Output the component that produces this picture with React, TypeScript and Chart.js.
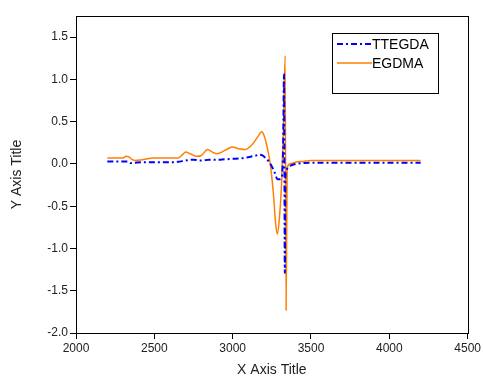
import React, { useEffect, useRef } from 'react';
import { Chart, registerables } from 'chart.js';

Chart.register(...registerables);

const seriesNames = ['TTEGDA', 'EGDMA'];

const ttegdaX = [2200, 2250, 2300, 2330, 2350, 2380, 2420, 2500, 2600, 2650, 2700, 2750, 2800, 2850, 2900, 2950, 3000, 3050, 3100, 3150, 3170, 3190, 3210, 3230, 3250, 3270, 3285, 3300, 3314, 3322, 3328, 3333, 3337, 3342, 3350, 3370, 3400, 3450, 3500, 3600, 3800, 4000, 4200];
const ttegdaY = [0.03, 0.03, 0.03, 0.03, 0.01, 0.015, 0.02, 0.02, 0.02, 0.025, 0.04, 0.05, 0.04, 0.05, 0.05, 0.055, 0.06, 0.065, 0.08, 0.1, 0.11, 0.1, 0.07, 0.03, -0.03, -0.11, -0.18, -0.18, -0.15, 0.2, 1.07, -1.29, -0.15, -0.08, -0.05, -0.02, 0.0, 0.01, 0.015, 0.015, 0.015, 0.015, 0.015];

const egdmaX = [2200, 2250, 2300, 2320, 2340, 2360, 2380, 2420, 2500, 2600, 2650, 2680, 2700, 2730, 2770, 2800, 2840, 2870, 2900, 2930, 2970, 3000, 3040, 3080, 3120, 3160, 3185, 3200, 3220, 3240, 3260, 3275, 3285, 3298, 3312, 3324, 3335, 3341, 3348, 3365, 3400, 3450, 3500, 3600, 3800, 4000, 4200];
const egdmaY = [0.07, 0.07, 0.07, 0.09, 0.08, 0.05, 0.04, 0.05, 0.07, 0.07, 0.07, 0.11, 0.14, 0.12, 0.09, 0.1, 0.17, 0.14, 0.12, 0.14, 0.18, 0.2, 0.18, 0.17, 0.22, 0.32, 0.38, 0.34, 0.2, 0.0, -0.35, -0.72, -0.83, -0.65, -0.25, 0.4, 1.28, -1.73, -0.05, 0.0, 0.02, 0.03, 0.04, 0.04, 0.04, 0.04, 0.04];

const xTicks = [2000, 2500, 3000, 3500, 4000, 4500];
const yTicks = [-2.0, -1.5, -1.0, -0.5, 0.0, 0.5, 1.0, 1.5];

const FONT = "'Liberation Sans', Arial, sans-serif";

const framePlugin = {
  id: 'frame',
  afterDraw(chart: any) {
    const { ctx, chartArea } = chart;
    ctx.save();
    ctx.strokeStyle = '#000';
    ctx.lineWidth = 1;
    ctx.strokeRect(Math.round(chartArea.left) + 0.5, Math.round(chartArea.top) + 0.5,
      Math.round(chartArea.right - chartArea.left), Math.round(chartArea.bottom - chartArea.top));
    ctx.restore();
  },
};

const legendPlugin = {
  id: 'boxLegend',
  afterDraw(chart: any) {
    const ctx = chart.ctx;
    const bx = 332, by = 33, bw = 106, bh = 60;
    ctx.save();
    ctx.fillStyle = '#fff';
    ctx.fillRect(bx, by, bw, bh);
    ctx.strokeStyle = '#000';
    ctx.lineWidth = 1;
    ctx.strokeRect(bx + 0.5, by + 0.5, bw, bh);
    chart.data.datasets.forEach((ds: any, i: number) => {
      const y = by + 11 + i * 19;
      ctx.strokeStyle = ds.borderColor;
      ctx.lineWidth = ds.borderWidth;
      ctx.setLineDash(ds.borderDash || []);
      ctx.beginPath();
      ctx.moveTo(bx + 5, y);
      ctx.lineTo(bx + 40, y);
      ctx.stroke();
      ctx.setLineDash([]);
      ctx.fillStyle = '#000';
      ctx.font = `14px ${FONT}`;
      ctx.textBaseline = 'middle';
      ctx.textAlign = 'left';
      ctx.fillText(ds.label, bx + 40, y + 1);
    });
    ctx.restore();
  },
};

export default function App() {
  const ref = useRef<HTMLCanvasElement | null>(null);
  useEffect(() => {
    if (!ref.current) return;
    const chart = new Chart(ref.current, {
      type: 'line',
      data: {
        datasets: [
          {
            label: seriesNames[0],
            data: ttegdaX.map((x, i) => ({ x, y: ttegdaY[i] })),
            borderColor: '#0000ff',
            borderWidth: 2,
            borderDash: [6, 3, 2, 3],
            pointRadius: 0,
            fill: false,
            cubicInterpolationMode: 'monotone',
          },
          {
            label: seriesNames[1],
            data: egdmaX.map((x, i) => ({ x, y: egdmaY[i] })),
            borderColor: '#ff8000',
            borderWidth: 1.5,
            pointRadius: 0,
            fill: false,
            cubicInterpolationMode: 'monotone',
          },
        ],
      },
      options: {
        animation: false,
        responsive: true,
        maintainAspectRatio: false,
        layout: { padding: { top: 16, right: 15, left: 0, bottom: 0 } },
        plugins: { legend: { display: false }, tooltip: { enabled: false } },
        scales: {
          x: {
            type: 'linear',
            min: 2000,
            max: 4500,
            afterBuildTicks: (s: any) => { s.ticks = xTicks.map((v) => ({ value: v })); },
            afterFit: (s: any) => { s.height = 46; },
            grid: { drawOnChartArea: false, drawTicks: true, tickLength: 6, color: '#000' },
            border: { display: true, color: '#000', width: 1 },
            ticks: { color: '#222', padding: 2, maxRotation: 0, font: { family: FONT, size: 12 }, callback: (v: any) => String(v) },
            title: { display: true, text: 'X Axis Title', color: '#222', font: { family: FONT, size: 14 }, padding: { top: 0, bottom: 0 } },
          },
          y: {
            type: 'linear',
            min: -2,
            max: 1.75,
            afterBuildTicks: (s: any) => { s.ticks = yTicks.map((v) => ({ value: v })); },
            afterFit: (s: any) => { s.width = 76; },
            grid: { drawOnChartArea: false, drawTicks: true, tickLength: 6, color: '#000' },
            border: { display: true, color: '#000', width: 1 },
            ticks: { color: '#222', padding: 2, font: { family: FONT, size: 12 }, callback: (v: any) => Number(v).toFixed(1) },
            title: { display: true, text: 'Y Axis Title', color: '#222', font: { family: FONT, size: 14 }, padding: { top: 9, bottom: 0 } },
          },
        },
      },
      plugins: [framePlugin, legendPlugin],
    } as any);
    return () => chart.destroy();
  }, []);
  return (
    <div style={{ position: 'fixed', left: 0, top: 0, width: 483, height: 379, background: '#fff' }}>
      <canvas ref={ref} />
    </div>
  );
}
